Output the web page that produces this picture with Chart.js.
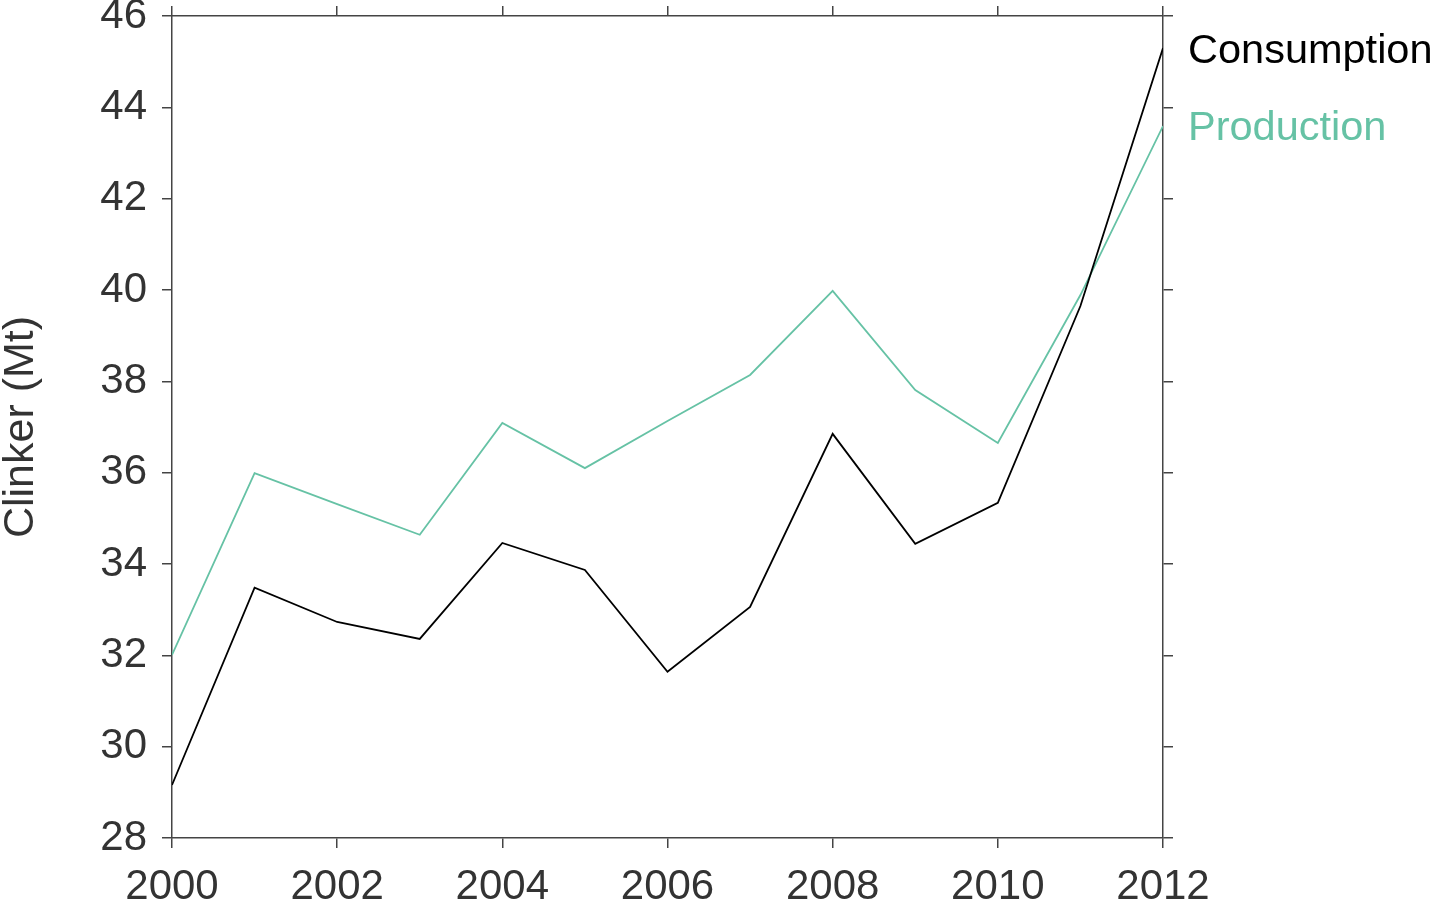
<!DOCTYPE html>
<html>
<head>
<meta charset="utf-8">
<script src="https://cdn.jsdelivr.net/npm/chart.js@4/dist/chart.umd.min.js"></script>
<style>
  html, body { margin: 0; padding: 0; background: #fff; }
  canvas { display: block; }
</style>
</head>
<body>
<canvas id="chart" width="1431" height="903"></canvas>
<script>
// data
const years = [2000, 2001, 2002, 2003, 2004, 2005, 2006, 2007, 2008, 2009, 2010, 2011, 2012];
const consumption = [29.16, 33.48, 32.73, 32.36, 34.46, 33.87, 31.64, 33.06, 36.85, 34.44, 35.34, 39.65, 45.30];
const production = [32.01, 35.99, 35.31, 34.64, 37.09, 36.10, 37.13, 38.14, 39.98, 37.81, 36.65, 39.89, 43.59];
const seriesNames = ['Consumption', 'Production'];
const seriesColors = ['#000000', '#66c2a5'];
const yRange = [28, 46];
const xRange = [2000, 2012];

const FONT = '"Liberation Sans", Arial, Helvetica, sans-serif';
const AXIS = '#444444';
const TEXT = '#333333';

const toPoints = (vals) => vals.map((v, i) => ({ x: years[i], y: v }));

// series names drawn right of the plot, in each series colour
const sideLegend = {
  id: 'sideLegend',
  afterDraw(chart) {
    const { ctx, chartArea } = chart;
    ctx.save();
    ctx.font = '41.5px ' + FONT;
    ctx.textAlign = 'left';
    ctx.textBaseline = 'alphabetic';
    seriesNames.forEach((name, i) => {
      ctx.fillStyle = seriesColors[i];
      ctx.fillText(name, chartArea.right + 25, chartArea.top + 47 + i * 77);
    });
    ctx.restore();
  },
};

const gridOpts = {
  drawOnChartArea: false,
  drawTicks: true,
  tickLength: 10,
  color: AXIS,
  lineWidth: 1.5,
};
const borderOpts = { display: true, color: AXIS, width: 1.5 };

// fixed box sizes so the plot sits where it does in the reference
const fixBox = (w, h) => (s) => {
  if (w !== null) s.width = w;
  if (h !== null) s.height = h;
  s.paddingTop = 0;
  s.paddingBottom = 0;
  s.paddingLeft = 0;
  s.paddingRight = 0;
};

new Chart(document.getElementById('chart'), {
  type: 'line',
  data: {
    datasets: [
      {
        label: seriesNames[0],
        data: toPoints(consumption),
        borderColor: seriesColors[0],
        borderWidth: 1.8,
        pointRadius: 0,
        tension: 0,
      },
      {
        label: seriesNames[1],
        data: toPoints(production),
        borderColor: seriesColors[1],
        borderWidth: 1.8,
        pointRadius: 0,
        tension: 0,
      },
    ],
  },
  options: {
    responsive: false,
    animation: false,
    layout: { padding: 0 },
    plugins: {
      legend: { display: false },
      tooltip: { enabled: false },
    },
    scales: {
      x: {
        type: 'linear',
        position: 'bottom',
        min: xRange[0],
        max: xRange[1],
        grid: gridOpts,
        border: borderOpts,
        ticks: {
          stepSize: 2,
          color: TEXT,
          font: { family: FONT, size: 42 },
          padding: 14,
          maxRotation: 0,
          callback: (v) => String(v),
        },
        afterFit: fixBox(null, 65),
      },
      x2: {
        type: 'linear',
        position: 'top',
        min: xRange[0],
        max: xRange[1],
        grid: gridOpts,
        border: borderOpts,
        ticks: { stepSize: 2, display: false },
        afterFit: fixBox(null, 16),
      },
      y: {
        position: 'left',
        min: yRange[0],
        max: yRange[1],
        grid: gridOpts,
        border: borderOpts,
        ticks: {
          stepSize: 2,
          color: TEXT,
          font: { family: FONT, size: 42 },
          padding: 15,
        },
        title: {
          display: true,
          text: 'Clinker (Mt)',
          color: TEXT,
          font: { family: FONT, size: 43, lineHeight: 1 },
          padding: 0,
        },
        afterFit: fixBox(172, null),
      },
      y2: {
        position: 'right',
        min: yRange[0],
        max: yRange[1],
        grid: gridOpts,
        border: borderOpts,
        ticks: { stepSize: 2, display: false },
        afterFit: fixBox(268, null),
      },
    },
  },
  plugins: [sideLegend],
});
</script>
</body>
</html>
